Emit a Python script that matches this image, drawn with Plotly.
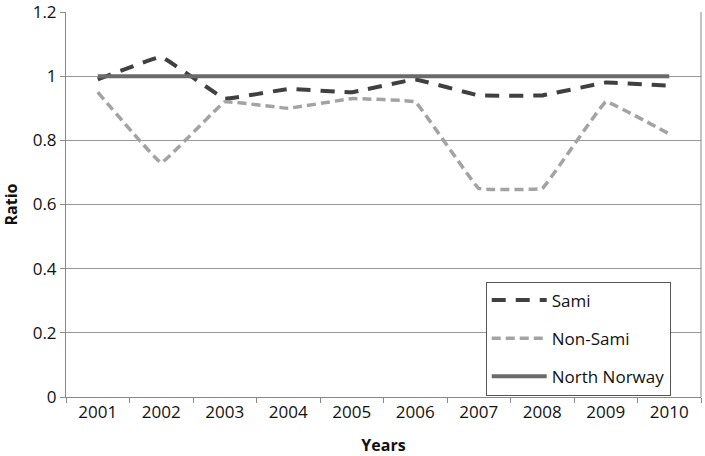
import plotly.graph_objects as go

years = ["2001", "2002", "2003", "2004", "2005", "2006", "2007", "2008", "2009", "2010"]
sami = [0.99, 1.06, 0.93, 0.96, 0.95, 0.99, 0.94, 0.94, 0.98, 0.97]
non_sami = [0.95, 0.73, 0.92, 0.90, 0.93, 0.92, 0.65, 0.65, 0.92, 0.82]
north_norway = [1, 1, 1, 1, 1, 1, 1, 1, 1, 1]
y_ticks = [0, 0.2, 0.4, 0.6, 0.8, 1, 1.2]
y_ticktext = ["0", "0.2", "0.4", "0.6", "0.8", "1", "1.2"]

font = "Open Sans"

fig = go.Figure()
fig.add_trace(go.Scatter(x=years, y=sami, name="Sami", mode="lines", legendgroup="a",
                         line=dict(color="#404040", width=4, dash="14px,10px", shape="spline", smoothing=0.15)))
fig.add_trace(go.Scatter(x=years, y=non_sami, name="Non-Sami", mode="lines", legendgroup="b",
                         line=dict(color="#a3a3a3", width=3.5, dash="9px,5px", shape="spline", smoothing=0.15)))
fig.add_trace(go.Scatter(x=years, y=north_norway, name="North Norway", mode="lines", legendgroup="c",
                         line=dict(color="#6a6a6a", width=4)))

fig.update_layout(
    width=705, height=456,
    margin=dict(l=66, r=4, t=12, b=59),
    paper_bgcolor="white", plot_bgcolor="white",
    font=dict(family=font, size=17, color="#111111"),
    showlegend=True,
    legend=dict(x=0.661, y=0.30, xanchor="left", yanchor="top",
                bordercolor="#555555", borderwidth=1, bgcolor="white",
                font=dict(size=17), tracegroupgap=13, itemwidth=55),
    xaxis=dict(type="category", range=[-0.5, 9.5], showgrid=False, automargin=False,
               showline=True, linecolor="#888888", linewidth=1, mirror=False,
               ticks="outside", tickson="boundaries", ticklen=5, tickcolor="#888888",
               title=dict(text="<b>Years</b>", font=dict(size=16), standoff=19)),
    yaxis=dict(range=[0, 1.2000001], tickvals=y_ticks, ticktext=y_ticktext, automargin=False,
               ticklabeloverflow="allow",
               showgrid=True, gridcolor="#999999", gridwidth=1,
               showline=True, linecolor="#888888", linewidth=1,
               ticks="outside", ticklen=5, tickcolor="#888888",
               zeroline=False,
               title=dict(text="<b>Ratio</b>", font=dict(size=16), standoff=12)),
)
fig.add_shape(type="line", xref="paper", yref="paper", x0=1, x1=1, y0=0, y1=1,
              line=dict(color="#888888", width=1))
fig.write_html("out.html", config={"displayModeBar": False},
               post_script="document.body.style.margin='0';document.body.style.overflow='hidden';")
